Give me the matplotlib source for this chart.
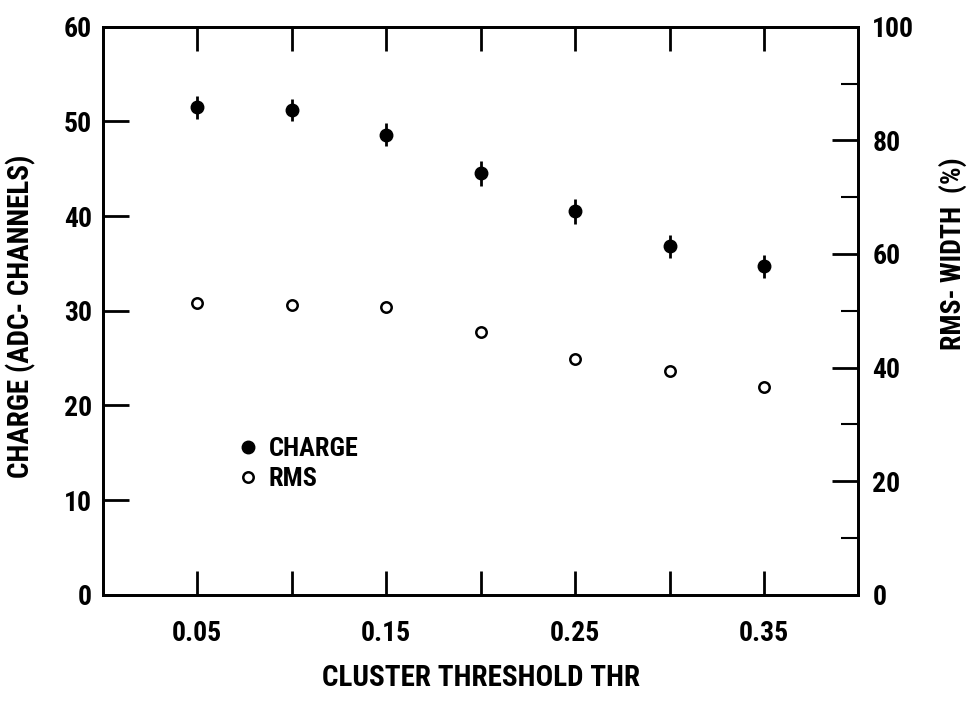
import matplotlib.pyplot as plt
from matplotlib.lines import Line2D
from matplotlib.ticker import MultipleLocator, FixedLocator

plt.rcParams['font.family'] = ['Roboto Condensed', 'DejaVu Sans Condensed',
                               'Liberation Sans', 'DejaVu Sans']
plt.rcParams['font.weight'] = 'bold'
plt.rcParams['axes.labelweight'] = 'bold'

# data
thr = [0.05, 0.10, 0.15, 0.20, 0.25, 0.30, 0.35]
charge = [51.5, 51.2, 48.6, 44.5, 40.5, 36.8, 34.7]
charge_err = [1.2, 1.2, 1.2, 1.3, 1.3, 1.2, 1.2]
rms = [51.4, 51.0, 50.7, 46.3, 41.5, 39.4, 36.6]

major_x = [0.05, 0.15, 0.25, 0.35]
minor_x = [0.10, 0.20, 0.30]

fig = plt.figure(figsize=(9.7, 7.03), dpi=100)
ax = fig.add_axes([0.106, 0.154, 0.779, 0.808])
ax2 = ax.twinx()

ax.errorbar(thr, charge, yerr=charge_err, fmt='o', color='black',
            markersize=9, elinewidth=2, capsize=0)
ax2.plot(thr, rms, 'o', markerfacecolor='white', markeredgecolor='black',
         markersize=7.5, markeredgewidth=1.8)

ax.set_xlim(0, 0.4)
ax.set_ylim(0, 60)
ax2.set_ylim(0, 100)

ax.xaxis.set_major_locator(FixedLocator(major_x))
ax.xaxis.set_minor_locator(FixedLocator(minor_x))
ax.set_xticklabels(['0.05', '0.15', '0.25', '0.35'])
ax.yaxis.set_major_locator(MultipleLocator(10))
ax2.yaxis.set_major_locator(MultipleLocator(20))
ax2.yaxis.set_minor_locator(MultipleLocator(10))

ax.tick_params(axis='x', which='both', direction='in', top=True, length=17,
               width=2, labelsize=20, pad=18)
ax.tick_params(axis='y', which='major', direction='in', length=19, width=2,
               labelsize=20, pad=8)
ax2.tick_params(axis='y', which='major', direction='in', length=19, width=2,
                labelsize=20, pad=10)
ax2.tick_params(axis='y', which='minor', direction='in', length=12, width=1.5)

for a in (ax, ax2):
    for s in a.spines.values():
        s.set_linewidth(2)

ax.set_xlabel('CLUSTER THRESHOLD THR', fontsize=21)
ax.set_ylabel('CHARGE (ADC- CHANNELS)', fontsize=21)
ax2.set_ylabel('RMS- WIDTH  (%)', fontsize=20)
ax.xaxis.set_label_coords(0.5, -0.122)
ax.yaxis.set_label_coords(-0.088, 0.49)
ax2.yaxis.set_label_coords(1.106, 0.6)

handles = [
    Line2D([], [], linestyle='none', marker='o', color='black', markersize=9),
    Line2D([], [], linestyle='none', marker='o', markerfacecolor='white',
           markeredgecolor='black', markersize=7.5, markeredgewidth=1.8),
]
ax2.legend(handles, ['CHARGE', 'RMS'], loc='center left',
           bbox_to_anchor=(0.143, 0.23), frameon=False, fontsize=19,
           handletextpad=0.3, labelspacing=0.25, handlelength=1.0)

fig.savefig('out.png', dpi=100)
